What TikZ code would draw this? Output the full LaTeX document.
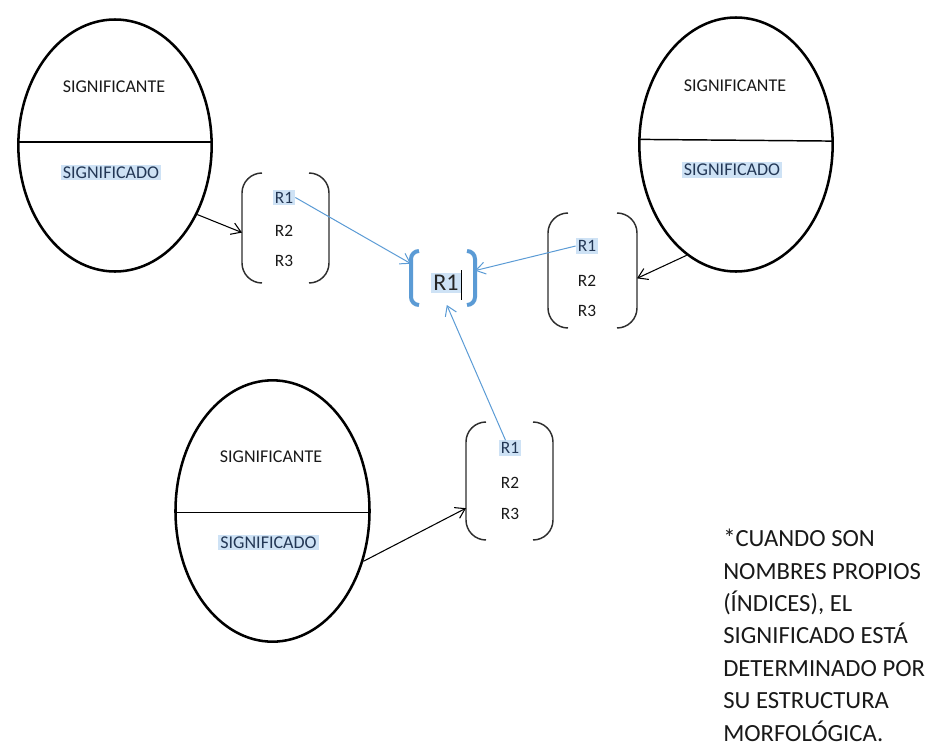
\documentclass[tikz,border=0pt]{standalone}
\usepackage{fontspec}
\setmainfont{Carlito}
\usetikzlibrary{shapes.geometric,arrows.meta}
\definecolor{wordblue}{RGB}{91,155,213}
\definecolor{selblue}{RGB}{206,226,245}
\definecolor{seltext}{RGB}{35,55,85}
\definecolor{brgray}{RGB}{45,45,45}

\begin{document}
\begin{tikzpicture}[x=0.75pt,y=-0.75pt,
        sign/.style={ellipse,draw,line width=1.9pt,inner sep=0pt},
        lbl/.style={font=\fontsize{13.5}{16}\selectfont,inner sep=0pt,text=black!90},
        sel/.style={lbl,fill=selblue,text=seltext,inner sep=1.5pt},
        rr/.style={font=\fontsize{13}{15}\selectfont,inner sep=0pt,text=black!90},
        rsel/.style={rr,fill=selblue,text=seltext,inner sep=1.5pt},
        brbox/.style={inner sep=0pt,outer sep=0pt},
        arr/.style={line width=0.8pt,-{Straight Barb[length=7pt,width=9pt]}},
        barr/.style={arr,draw=wordblue,line width=0.75pt}]
        \useasboundingbox (0,0) rectangle (926,743);

        \node[sign,minimum width=145pt,minimum height=189pt] (sigL) at (115,145.5) {};
        \node[sign,minimum width=145pt,minimum height=190.5pt] (sigR) at (736,144.5) {};
        \node[sign,minimum width=145.5pt,minimum height=196pt] (sigB) at (272.5,511) {};

        \draw[line width=1.1pt] (sigL.178) -- (sigL.2);
        \draw[line width=1.1pt] (sigR.177.4) -- (sigR.2.6);
        \draw[line width=1.1pt] (sigB.181.2) -- (sigB.-1.2);

        \node[lbl] (anteL) at (114,86.7) {SIGNIFICANTE};
        \node[sel] (adoL) at (111,172.5) {SIGNIFICADO};
        \node[lbl] (anteR) at (735,86) {SIGNIFICANTE};
        \node[sel] (adoR) at (732,170) {SIGNIFICADO};
        \node[lbl] (anteB) at (271,457) {SIGNIFICANTE};
        \node[sel] (adoB) at (268.5,542.5) {SIGNIFICADO};

        \node[brbox,minimum width=65.25pt,minimum height=82.5pt] (brL) at (285.5,228) {};
        \node[brbox,minimum width=66.75pt,minimum height=86.25pt] (brR) at (592.5,270.5) {};
        \node[brbox,minimum width=65.25pt,minimum height=88.5pt] (brB) at (509.5,481) {};

        \foreach \b in {brL,brR,brB}{
          \draw[brgray,line width=1.1pt,rounded corners=15pt] ([xshift=15pt]\b.north west) -- (\b.north west) -- (\b.south west) -- ([xshift=15pt]\b.south west);
          \draw[brgray,line width=1.1pt,rounded corners=15pt] ([xshift=-15pt]\b.north east) -- (\b.north east) -- (\b.south east) -- ([xshift=-15pt]\b.south east);
        }

        \node[rsel] (R1l) at (284,197.5) {R1};
        \node[rr] (R2l) at (284,231) {R2};
        \node[rr] (R3l) at (284,261) {R3};
        \node[rsel] (R1r) at (587,246) {R1};
        \node[rr] (R2r) at (587,280.5) {R2};
        \node[rr] (R3r) at (587,311) {R3};
        \node[rsel] (R1b) at (510,448) {R1};
        \node[rr] (R2b) at (510,483) {R2};
        \node[rr] (R3b) at (510,514) {R3};

        \node[brbox,outer sep=3pt,minimum width=42pt,minimum height=34.5pt] (ctr) at (443,278) {};
        \draw[wordblue,line width=3pt,rounded corners=6pt] ([xshift=6pt]ctr.north west) -- (ctr.north west) -- (ctr.south west) -- ([xshift=6pt]ctr.south west);
        \draw[wordblue,line width=3pt,rounded corners=6pt] ([xshift=-6pt]ctr.north east) -- (ctr.north east) -- (ctr.south east) -- ([xshift=-6pt]ctr.south east);
        \node[fill=selblue,text=black!85,inner sep=1.5pt,font=\fontsize{18}{21}\selectfont] (R1c) at (446,283) {R1};
        \draw[line width=0.6pt] (461,270) -- (461,300);

        \draw[arr] (sigL.-40) -- (brL.186);
        \draw[arr] (sigR.246) -- (brR.-10);
        \draw[arr] (sigB.-29.4) -- (brB.212);

        \draw[barr] (R1l.east) -- (ctr.156);
        \draw[barr] (R1r.west) -- (ctr.13);
        \draw[barr] (R1b.120) -- (ctr.-82);

        \node[anchor=north west,inner sep=0pt,align=left,text=black!90,font=\fontsize{18.5}{24.3}\selectfont] (nota) at (723,529) {*CUANDO SON\\NOMBRES PROPIOS\\(ÍNDICES), EL\\SIGNIFICADO ESTÁ\\DETERMINADO POR\\SU ESTRUCTURA\\MORFOLÓGICA.};
\end{tikzpicture}
\end{document}
